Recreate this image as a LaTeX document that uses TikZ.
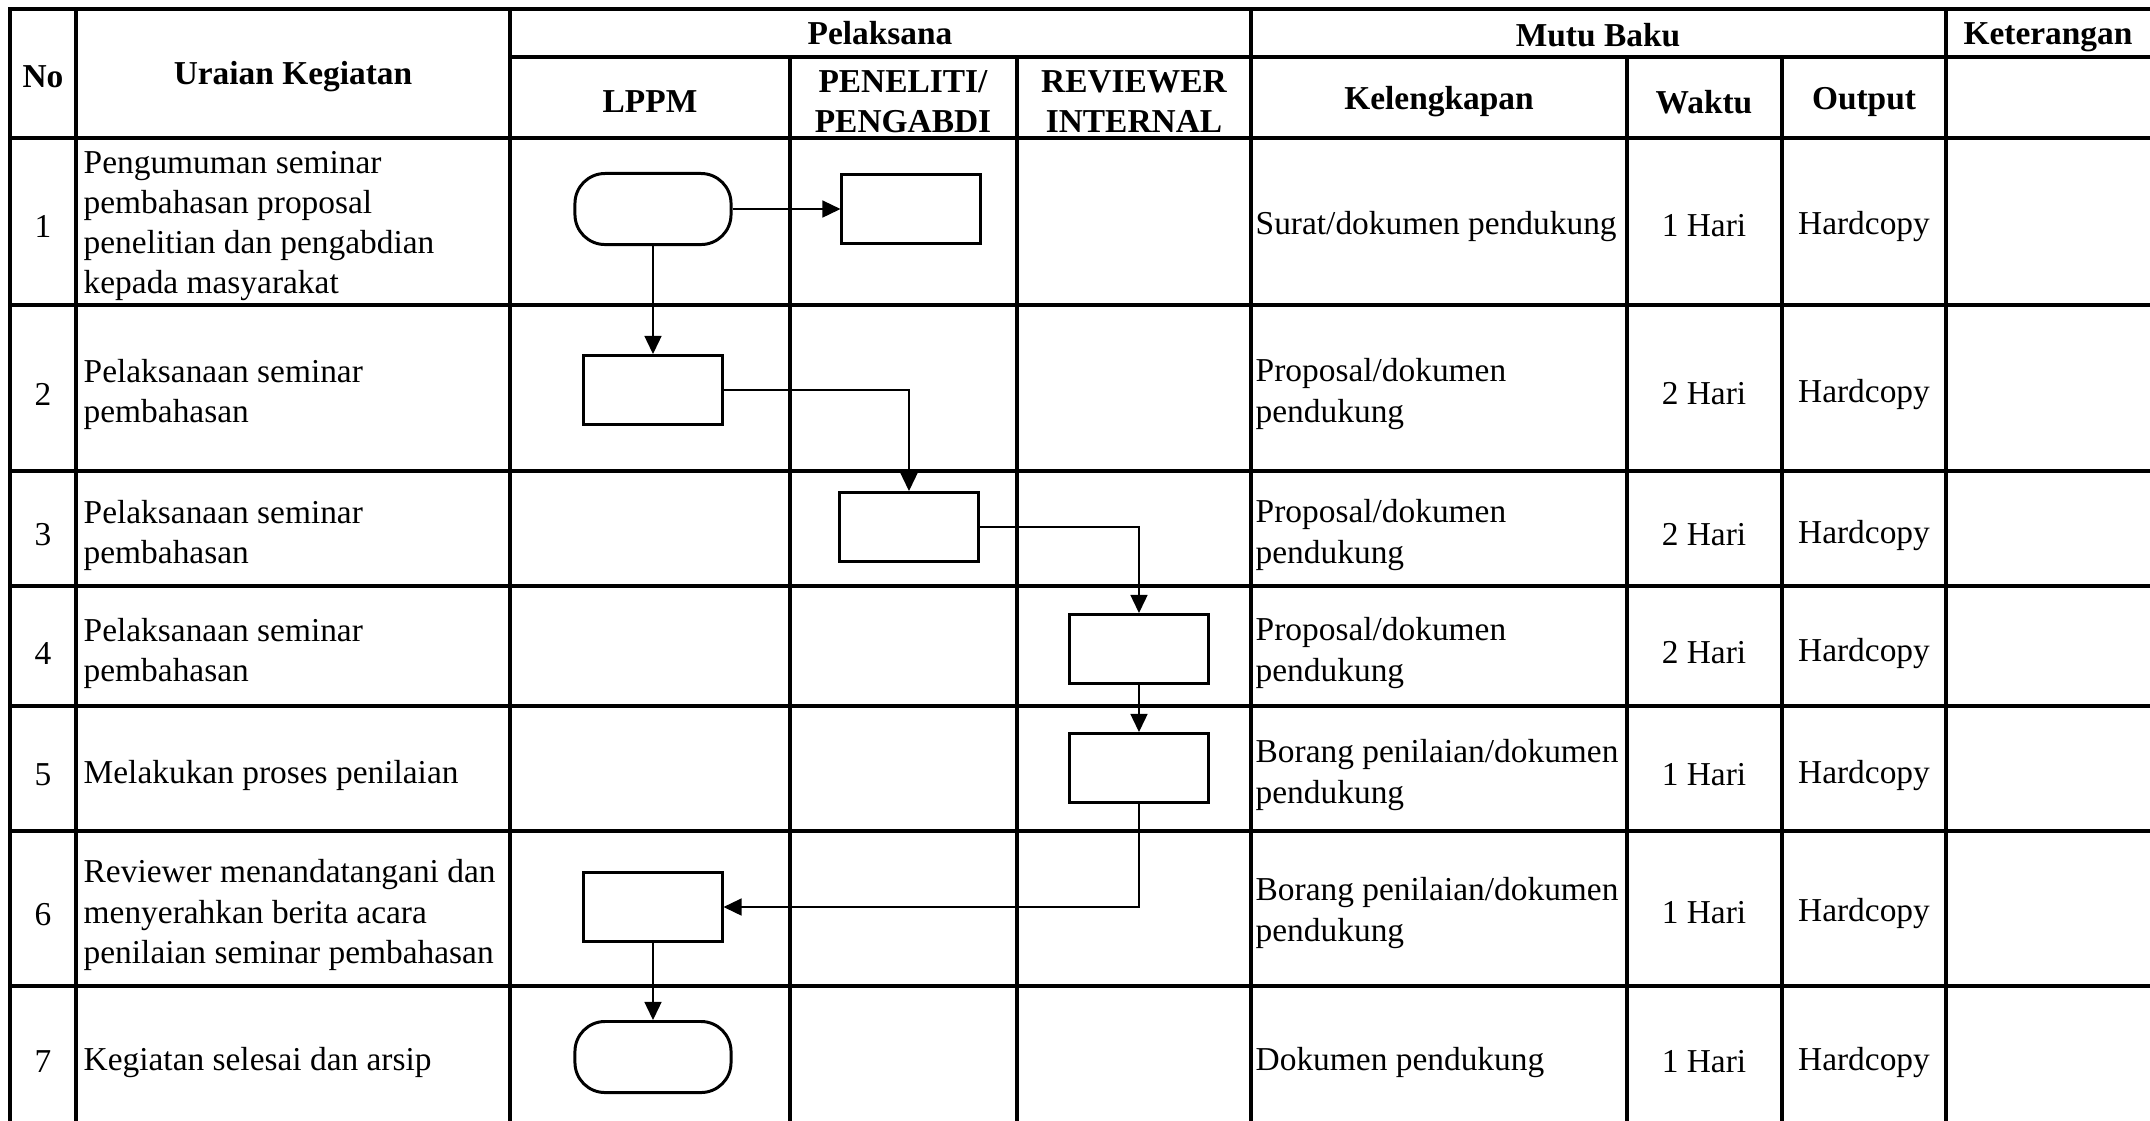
\documentclass[tikz,border=0pt]{standalone}
\usepackage{fontspec}
\setmainfont{Liberation Serif}
\usetikzlibrary{arrows.meta}

\begin{document}
\begin{tikzpicture}[
  x=0.01cm, y=-0.01cm,
  font=\fontsize{9.5pt}{11.4pt}\selectfont,
  grid/.style={line width=1pt, line cap=rect},
  head/.style={font=\fontsize{9.5pt}{11.4pt}\selectfont\bfseries, align=center, inner sep=0, yshift=-0.04cm},
  txt/.style={anchor=west, align=left, inner sep=0, yshift=-0.05cm},
  mid/.style={align=center, inner sep=0, yshift=-0.05cm},
  proc/.style={draw, line width=0.85pt, minimum width=1.38cm, minimum height=0.69cm, inner sep=0},
  term/.style={draw, line width=0.85pt, rounded corners=0.3cm, minimum width=1.56cm, minimum height=0.71cm, inner sep=0},
  arrow/.style={-{Triangle[length=0.18cm, width=0.17cm]}, line width=0.4pt}
]
\useasboundingbox (0,0) rectangle (2150,1120);

\draw[grid] (10,9) -- (2150,9);
\draw[grid] (510,57) -- (2150,57);
\foreach \y in {138,305,471,586,706,831,986}
  \draw[grid] (10,\y) -- (2150,\y);
\foreach \x in {10,76,510,1251,1946}
  \draw[grid] (\x,9) -- (\x,1120);
\foreach \x in {790,1017,1627,1782}
  \draw[grid] (\x,57) -- (\x,1120);

\node[head] (no) at (43,73) {No};
\node[head] (uraian) at (293,73) {Uraian Kegiatan};
\node[head] (pelaksana) at (880,29) {Pelaksana};
\node[head] (lppm) at (650,98) {LPPM};
\node[head] (peneliti) at (903,98) {PENELITI/\\PENGABDI};
\node[head] (reviewer) at (1134,98) {REVIEWER\\INTERNAL};
\node[head] (mutu) at (1598,31) {Mutu Baku};
\node[head] (lengkap) at (1439,98) {Kelengkapan};
\node[head] (waktu) at (1704,98) {Waktu};
\node[head] (output) at (1864,98) {Output};
\node[head] (ket) at (2048,33) {Keterangan};

\node[mid] (n1) at (43,221) {1};
\node[txt] (u1) at (83,221) {Pengumuman seminar\\pembahasan proposal\\penelitian dan pengabdian\\kepada masyarakat};
\node[txt] (k1) at (1255,221) {Surat/dokumen pendukung};
\node[mid] (w1) at (1704,221) {1 Hari};
\node[mid] (o1) at (1864,221) {Hardcopy};

\node[mid] (n2) at (43,389) {2};
\node[txt] (u2) at (83,389) {Pelaksanaan seminar\\pembahasan};
\node[txt] (k2) at (1255,389) {Proposal/dokumen\\pendukung};
\node[mid] (w2) at (1704,389) {2 Hari};
\node[mid] (o2) at (1864,389) {Hardcopy};

\node[mid] (n3) at (43,530) {3};
\node[txt] (u3) at (83,530) {Pelaksanaan seminar\\pembahasan};
\node[txt] (k3) at (1255,530) {Proposal/dokumen\\pendukung};
\node[mid] (w3) at (1704,530) {2 Hari};
\node[mid] (o3) at (1864,530) {Hardcopy};

\node[mid] (n4) at (43,648) {4};
\node[txt] (u4) at (83,648) {Pelaksanaan seminar\\pembahasan};
\node[txt] (k4) at (1255,648) {Proposal/dokumen\\pendukung};
\node[mid] (w4) at (1704,648) {2 Hari};
\node[mid] (o4) at (1864,648) {Hardcopy};

\node[mid] (n5) at (43,770) {5};
\node[txt] (u5) at (83,770) {Melakukan proses penilaian};
\node[txt] (k5) at (1255,770) {Borang penilaian/dokumen\\pendukung};
\node[mid] (w5) at (1704,770) {1 Hari};
\node[mid] (o5) at (1864,770) {Hardcopy};

\node[mid] (n6) at (43,910) {6};
\node[txt] (u6) at (83,910) {Reviewer menandatangani dan\\menyerahkan berita acara\\penilaian seminar pembahasan};
\node[txt] (k6) at (1255,908) {Borang penilaian/dokumen\\pendukung};
\node[mid] (w6) at (1704,908) {1 Hari};
\node[mid] (o6) at (1864,908) {Hardcopy};

\node[mid] (n7) at (43,1057) {7};
\node[txt] (u7) at (83,1057) {Kegiatan selesai dan arsip};
\node[txt] (k7) at (1255,1057) {Dokumen pendukung};
\node[mid] (w7) at (1704,1057) {1 Hari};
\node[mid] (o7) at (1864,1057) {Hardcopy};

\node[term] (mulai) at (653,209) {};
\node[proc] (umum) at (911,209) {};
\node[proc] (lppm2) at (653,390) {};
\node[proc] (peneliti3) at (909,527) {};
\node[proc] (rev4) at (1139,649) {};
\node[proc] (rev5) at (1139,768) {};
\node[proc] (lppm6) at (653,907) {};
\node[term] (selesai) at (653,1057) {};

\draw[arrow] (mulai) -- (umum);
\draw[arrow] (mulai) -- (lppm2);
\draw[arrow] (lppm2) -| (peneliti3);
\draw[arrow] (peneliti3) -| (rev4);
\draw[arrow] (rev4) -- (rev5);
\draw[arrow] (rev5) |- (lppm6);
\draw[arrow] (lppm6) -- (selesai);

\end{tikzpicture}
\end{document}
